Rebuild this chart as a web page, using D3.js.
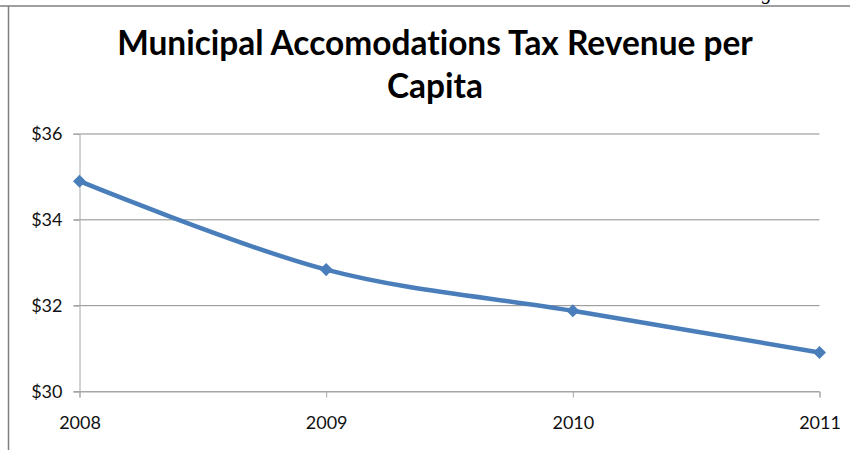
<!DOCTYPE html>
<html>
<head>
<meta charset="utf-8">
<title>Municipal Accomodations Tax Revenue per Capita</title>
<script src="https://d3js.org/d3.v7.min.js"></script>
<style>
  body { margin: 0; background: #fff; }
  svg text { font-family: Lato, "Open Sans", sans-serif; font-variant-ligatures: none; }
</style>
</head>
<body>
<div id="chart"></div>
<script>
// data
var years = ["2008", "2009", "2010", "2011"];
var revenue = [34.9, 32.84, 31.88, 30.91];
var yTicks = [30, 32, 34, 36];
var titleLines = ["Municipal Accomodations Tax Revenue per", "Capita"];

var W = 850, H = 450;
var margin = {top: 134, right: 30.5, bottom: 58.5, left: 79.5};

var svg = d3.select("#chart").append("svg")
  .attr("width", W)
  .attr("height", H);

// frame pieces visible in the crop
svg.append("line")
  .attr("x1", 0).attr("x2", W).attr("y1", 6).attr("y2", 6)
  .attr("stroke", "#7f7f7f").attr("stroke-width", 1.5);
svg.append("line")
  .attr("x1", 8.5).attr("x2", 8.5).attr("y1", 6).attr("y2", H)
  .attr("stroke", "#7f7f7f").attr("stroke-width", 1.5);
// bit of a letter from the page above, cut by the crop
svg.append("text")
  .attr("x", 762).attr("y", -1)
  .style("font-family", "'Liberation Serif', serif")
  .style("font-style", "italic")
  .style("font-size", "20px")
  .text("g");

// title, fitted to the width it has in the picture
var title = svg.append("g");
title.selectAll("text")
  .data(titleLines)
  .enter().append("text")
    .attr("x", 435)
    .attr("y", function(d, i) { return 55 + i * 43; })
    .attr("text-anchor", "middle")
    .style("font-weight", "bold")
    .style("font-size", "30px")
    .attr("fill", "#000")
    .text(function(d) { return d; });
var first = title.select("text").node();
var fs = 30 * 636 / first.getComputedTextLength();
title.selectAll("text").style("font-size", fs + "px");

var width = W - margin.left - margin.right,
    height = H - margin.top - margin.bottom;

var g = svg.append("g")
  .attr("transform", "translate(" + margin.left + "," + margin.top + ")");

var x = d3.scalePoint()
  .domain(years)
  .range([0, width]);

var y = d3.scaleLinear()
  .domain([30, 36])
  .range([height, 0]);

// gridlines
g.append("g")
  .selectAll("line")
  .data(yTicks)
  .enter().append("line")
    .attr("x1", -6).attr("x2", width)
    .attr("y1", function(d) { return y(d); })
    .attr("y2", function(d) { return y(d); })
    .attr("stroke", function(d) { return d === 30 ? "#a6a6a6" : "#8c8c8c"; })
    .attr("stroke-width", 1);

// y axis
var yAxis = g.append("g")
  .call(d3.axisLeft(y).tickValues(yTicks).tickSize(6).tickPadding(11)
    .tickFormat(function(d) { return "$" + d; }));
yAxis.select(".domain").attr("stroke", "#a6a6a6");
yAxis.selectAll(".tick line").attr("stroke", "#a6a6a6");
yAxis.selectAll("text")
  .style("font-size", "18px")
  .attr("fill", "#111");

// x axis
var xAxis = g.append("g")
  .attr("transform", "translate(0," + height + ")")
  .call(d3.axisBottom(x).tickSize(6).tickPadding(19));
xAxis.select(".domain").attr("stroke", "#a6a6a6");
xAxis.selectAll(".tick line").attr("stroke", "#a6a6a6");
xAxis.selectAll("text")
  .style("font-size", "18px")
  .attr("fill", "#111");

// smoothed line
var pts = years.map(function(d, i) { return [x(d), y(revenue[i])]; });
g.append("path")
  .datum(pts)
  .attr("fill", "none")
  .attr("stroke", "#4a7ebb")
  .attr("stroke-width", 4.5)
  .attr("stroke-linejoin", "round")
  .attr("d", d3.line().curve(d3.curveCardinal.tension(0)));

// diamond markers
var diamond = d3.symbol().type(d3.symbolSquare).size(85);
g.selectAll(".marker")
  .data(pts)
  .enter().append("path")
    .attr("class", "marker")
    .attr("d", diamond)
    .attr("transform", function(d) { return "translate(" + d[0] + "," + d[1] + ") rotate(45)"; })
    .attr("fill", "#4a7ebb");
</script>
</body>
</html>
